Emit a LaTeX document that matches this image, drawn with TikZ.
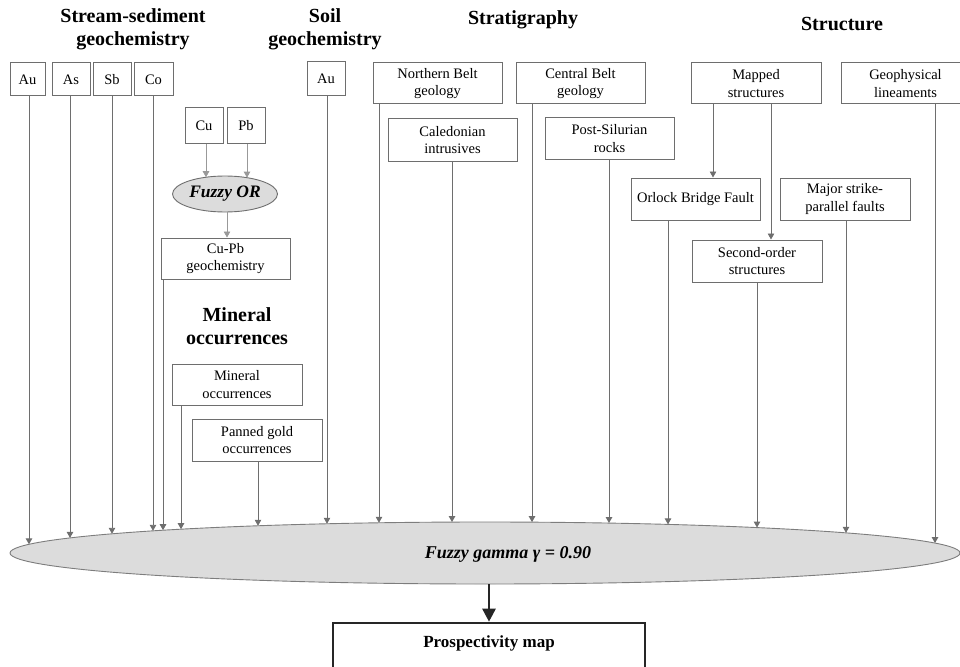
\documentclass[tikz,border=0pt]{standalone}
\usepackage{fontspec}
\setmainfont{Liberation Serif}
\usetikzlibrary{arrows.meta,shapes.geometric}
\definecolor{lin}{HTML}{6E6E6E}
\definecolor{efill}{HTML}{DCDCDC}
\tikzset{
  bx/.style={draw=lin, line width=1pt, fill=white, align=center, inner sep=1pt,
    font=\fontsize{14.5}{17.5}\selectfont},
  ttl/.style={align=center, font=\fontsize{20}{22.5}\selectfont\bfseries},
  arr/.style={draw=lin, line width=0.9pt, -{Triangle[width=6.5pt,length=6pt]}},
  thinarr/.style={draw=lin!70, line width=0.7pt, -{Triangle[width=6.5pt,length=6pt]}},
  bigarr/.style={draw=black!85, line width=2.6pt, -{Triangle[width=13pt,length=13pt]}},
}
% draw a vertical arrow from a node's lower side at x down to an ellipse border
\newcommand\ArrToEll[7]{% style, node, x, cx, cy, rx, ry
  \pgfmathsetmacro\eyy{#5-#7*sqrt(1-((#3-#4)/#6)^2)}
  \draw[#1] (#2.south -| #3,0) -- (#3,\eyy);}
\begin{document}
\begin{tikzpicture}[x=1pt,y=-1pt]
\useasboundingbox (0,0) rectangle (960,666);
\clip (0,0) rectangle (960,666);

% titles
\node[ttl] (tss) at (133,29.5) {Stream-sediment\\geochemistry};
\node[ttl] (tsoil) at (325,29.5) {Soil\\geochemistry};
\node[ttl] (tstr) at (523,20) {Stratigraphy};
\node[ttl] (tstc) at (842,24) {Structure};
\node[ttl] (tmin) at (237,326) {Mineral\\occurrences};

% big ellipse
\node[ellipse, draw=lin!90, line width=0.9pt, fill=efill, minimum width=950, minimum height=62, inner sep=0pt] (G) at (485,553) {};
\node[font=\fontsize{18}{20}\selectfont\bfseries\itshape] (Gt) at (508,554) {Fuzzy gamma γ = 0.90};

% stream-sediment boxes
\node[bx, minimum width=35, minimum height=33] (au1) at (27.5,79.5) {Au};
\node[bx, minimum width=38, minimum height=33] (as) at (71,79.5) {As};
\node[bx, minimum width=38, minimum height=33] (sb) at (112,79.5) {Sb};
\node[bx, minimum width=39, minimum height=33] (co) at (153.5,79.5) {Co};
\node[bx, minimum width=38, minimum height=35] (cu) at (204,125.5) {Cu};
\node[bx, minimum width=38, minimum height=35] (pb) at (246,125.5) {Pb};
\node[ellipse, draw=lin, line width=0.9pt, fill=efill, minimum width=105, minimum height=36, inner sep=0pt,
  font=\fontsize{17.5}{19}\selectfont\bfseries\itshape] (F) at (225,194) {Fuzzy OR};
\node[bx, minimum width=129, minimum height=41] (cupb) at (225.5,258.5) {Cu-Pb\\geochemistry};
\node[bx, minimum width=130, minimum height=41] (minocc) at (237,384.5) {Mineral\\occurrences};
\node[bx, minimum width=130, minimum height=42] (pan) at (257,440) {Panned gold\\occurrences};

% soil
\node[bx, minimum width=38, minimum height=34] (sau) at (326,79) {Au};

% stratigraphy
\node[bx, minimum width=129, minimum height=41] (nb) at (437.5,83.5) {Northern Belt\\geology};
\node[bx, minimum width=129, minimum height=42] (cal) at (452.5,140) {Caledonian\\intrusives};
\node[bx, minimum width=129, minimum height=41] (cb) at (580.5,83.5) {Central Belt\\geology};
\node[bx, minimum width=129, minimum height=41] (ps) at (609.5,138.5) {Post-Silurian\\rocks};

% structure
\node[bx, minimum width=130, minimum height=41] (map) at (756,83.5) {Mapped\\structures};
\node[bx, minimum width=129, minimum height=41] (geo) at (905.5,83.5) {Geophysical\\lineaments};
\node[bx, minimum width=129, minimum height=42] (obf) at (695.5,199) {Orlock Bridge Fault};
\node[bx, minimum width=130, minimum height=42] (msp) at (845,199) {Major strike-\\parallel faults};
\node[bx, minimum width=130, minimum height=42] (soc) at (757,261) {Second-order\\structures};

% output
\node[draw=black!85, line width=2.6pt, minimum width=312, minimum height=46, inner sep=0pt] (pm) at (489,646) {};
\node[font=\fontsize{17}{19}\selectfont\bfseries] (pmt) at (489,643) {Prospectivity map};

% Cu, Pb -> Fuzzy OR
\ArrToEll{thinarr}{cu}{206}{225}{194}{52.5}{18}
\ArrToEll{thinarr}{pb}{247}{225}{194}{52.5}{18}
\draw[thinarr] (F.south -| 227,0) -- (cupb.north -| 227,0);

% Mapped -> Orlock, Second-order
\draw[arr] (map.south -| 713,0) -- (obf.north -| 713,0);
\draw[arr] (map.south -| 771,0) -- (soc.north -| 771,0);

% everything -> fuzzy gamma
\ArrToEll{arr}{au1}{29}{485}{553}{475}{31}
\ArrToEll{arr}{as}{70}{485}{553}{475}{31}
\ArrToEll{arr}{sb}{112}{485}{553}{475}{31}
\ArrToEll{arr}{co}{153}{485}{553}{475}{31}
\ArrToEll{arr}{cupb}{163}{485}{553}{475}{31}
\ArrToEll{arr}{minocc}{181}{485}{553}{475}{31}
\ArrToEll{arr}{pan}{258}{485}{553}{475}{31}
\ArrToEll{arr}{sau}{327}{485}{553}{475}{31}
\ArrToEll{arr}{nb}{379}{485}{553}{475}{31}
\ArrToEll{arr}{cal}{452}{485}{553}{475}{31}
\ArrToEll{arr}{cb}{532}{485}{553}{475}{31}
\ArrToEll{arr}{ps}{609}{485}{553}{475}{31}
\ArrToEll{arr}{obf}{668}{485}{553}{475}{31}
\ArrToEll{arr}{soc}{757}{485}{553}{475}{31}
\ArrToEll{arr}{msp}{846}{485}{553}{475}{31}
\ArrToEll{arr}{geo}{935}{485}{553}{475}{31}

% fuzzy gamma -> prospectivity map
\draw[bigarr] (G.south -| 489,0) -- (pm.north);
\end{tikzpicture}
\end{document}
